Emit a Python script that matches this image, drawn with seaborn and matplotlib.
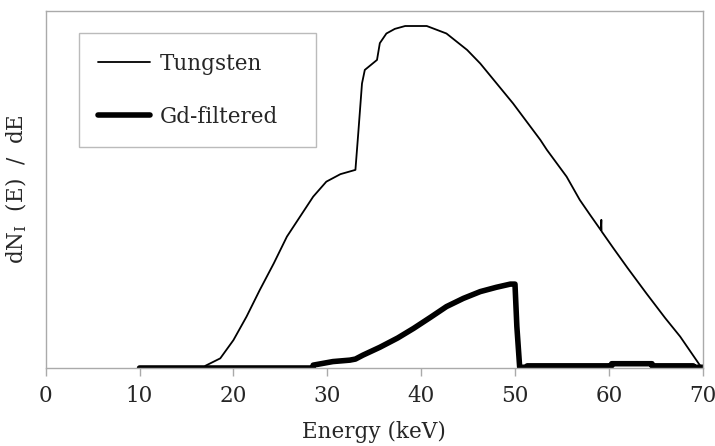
import matplotlib
matplotlib.use("Agg")
import matplotlib.pyplot as plt
import seaborn as sns
import pandas as pd

# spectra (arbitrary units, 100 = top of the axes)
tungsten_energy = [17.0, 18.6, 20.0, 21.4, 22.8, 24.3, 25.7, 27.1, 28.5, 29.9,
                   31.4, 33.0, 33.3, 33.7, 34.0, 35.3, 35.6, 36.3, 37.2, 38.3,
                   40.6, 42.7, 44.9, 46.3, 47.3, 49.8, 52.7, 53.4, 55.5, 56.9,
                   58.0, 59.15, 59.2, 59.22, 60.5, 62.0, 64.0, 66.0, 67.6, 69.9]
tungsten_flux = [0.6, 2.7, 7.8, 14.4, 21.8, 29.3, 36.8, 42.4, 48.0, 52.2,
                 54.3, 55.5, 65.7, 79.7, 83.5, 86.3, 91.0, 93.7, 95.0, 95.8,
                 95.8, 93.7, 89.1, 85.3, 82.1, 74.1, 63.9, 61.1, 53.6, 47.1,
                 42.9, 38.6, 41.5, 38.3, 33.5, 28.0, 20.9, 14.0, 8.8, 0.0]

gd_energy = [10.0, 28.5, 28.5, 30.6, 32.4, 33.0, 33.8, 35.6, 37.5, 39.2,
             41.0, 42.7, 44.5, 46.3, 48.0, 49.5, 50.0, 50.2, 50.5, 51.3,
             51.3, 60.3, 60.3, 64.6, 64.6, 69.0, 69.0, 70.0]
gd_flux = [0.0, 0.0, 0.8, 1.8, 2.2, 2.5, 3.6, 5.8, 8.4, 11.1,
           14.2, 17.2, 19.5, 21.4, 22.6, 23.5, 23.5, 11.6, 0.2, 0.2,
           0.6, 0.6, 1.2, 1.2, 0.6, 0.6, 0.2, 0.2]

series_names = ["Tungsten", "Gd-filtered"]
xticks = [0, 10, 20, 30, 40, 50, 60, 70]

tungsten = pd.DataFrame({"energy": tungsten_energy, "flux": tungsten_flux})
gd = pd.DataFrame({"energy": gd_energy, "flux": gd_flux})

sns.set_style("white")
plt.rcParams["font.family"] = ["DejaVu Serif"]
plt.rcParams["mathtext.fontset"] = "dejavuserif"

fig = plt.figure(figsize=(7.15, 4.46), dpi=100)
ax = fig.add_axes([0.0639, 0.1749, 0.9189, 0.8004])

sns.lineplot(data=tungsten, x="energy", y="flux", sort=False, estimator=None,
             color="black", linewidth=1.3, label=series_names[0], ax=ax)
sns.lineplot(data=gd, x="energy", y="flux", sort=False, estimator=None,
             color="black", linewidth=4.0, label=series_names[1], ax=ax)

ax.set_xlim(0, 70)
ax.set_ylim(0, 100)
ax.set_xticks(xticks)
ax.set_yticks([])
ax.tick_params(axis="x", which="major", direction="out", length=6, width=1,
               color="#aaaaaa", labelsize=15.5, pad=6, bottom=True)
for side in ["left", "right", "top", "bottom"]:
    ax.spines[side].set_color("#aaaaaa")
    ax.spines[side].set_linewidth(1.0)

ax.set_xlabel("Energy (keV)", fontsize=15.5, labelpad=10)
ax.set_ylabel(r"dN$_\mathregular{I}$  (E)  /  dE", fontsize=15.5, labelpad=12)

leg = ax.legend(loc="upper left", bbox_to_anchor=(0.0507, 0.616, 0.3607, 0.322),
                mode="expand", borderaxespad=0, frameon=True,
                fancybox=False, fontsize=15.5, handlelength=2.4,
                labelspacing=1.45, borderpad=0.9, handletextpad=0.47)
leg.get_frame().set_edgecolor("#aaaaaa")
leg.get_frame().set_linewidth(1.0)

fig.savefig("out.png", dpi=100)
